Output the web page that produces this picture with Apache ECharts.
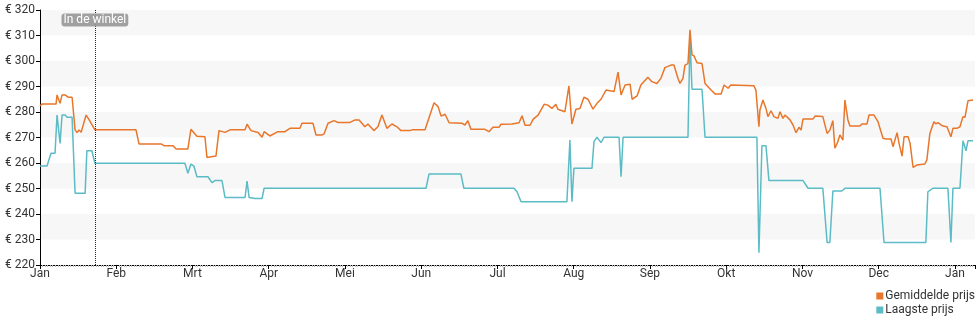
<!DOCTYPE html>
<html>
<head>
<meta charset="utf-8">
<script src="https://cdn.jsdelivr.net/npm/echarts@6/dist/echarts.min.js"></script>
<style>
html,body{margin:0;padding:0;background:#fff;}
#chart{width:980px;height:325px;}
</style>
</head>
<body>
<div id="chart"></div>
<script>
// Month tick labels (evenly spaced, one per twelfth of a year)
const monthLabels = ['Jan','Feb','Mrt','Apr','Mei','Jun','Jul','Aug','Sep','Okt','Nov','Dec'];
const yTicks = [220,230,240,250,260,270,280,290,300,310,320];
const seriesNames = ['Gemiddelde prijs','Laagste prijs'];

// Gemiddelde prijs: day offset from 1 Jan, price in euro
const avgDays = [0,0.8,6.4,6.8,8.0,8.8,10.0,11.2,12.8,14.0,14.8,15.6,16.4,18.4,19.5,21.9,38.3,39.5,48.3,49.5,53.1,54.3,59.0,60.2,62.6,65.8,66.6,70.2,71.4,73.8,75.8,81.8,82.6,84.2,87.0,88.6,89.4,91.7,94.9,97.7,99.7,103.7,104.5,108.9,110.1,112.5,113.3,114.9,117.3,118.9,123.7,125.7,127.3,128.4,129.6,130.8,133.2,134.8,136.4,138.4,140.4,142.4,144.0,147.6,148.4,153.6,157.2,158.8,160.0,161.6,163.2,168.3,169.5,170.7,171.9,177.5,179.1,180.7,183.1,183.9,188.3,191.1,192.3,193.5,195.5,196.7,198.7,201.1,202.6,204.2,205.8,206.6,209.4,211.0,212.2,213.8,215.4,217.0,218.6,220.6,222.2,223.8,225.8,229.0,230.6,231.8,233.4,235.4,236.2,238.2,239.7,242.5,244.1,246.1,247.7,249.3,251.7,252.9,254.5,255.3,256.5,257.3,258.5,259.3,260.1,260.9,262.1,264.1,265.3,266.5,267.7,269.3,271.7,272.9,274.5,275.6,284.8,285.6,286.8,287.2,288.4,289.6,290.4,291.6,292.8,294.4,295.2,296.4,297.2,299.2,300.4,301.6,302.8,303.6,304.4,308.4,309.2,312.3,314.0,315.1,316.3,317.1,318.3,319.1,320.3,321.1,322.3,323.1,327.1,327.9,329.9,330.7,332.7,334.3,336.3,337.5,339.5,340.3,341.9,342.7,343.9,344.7,346.3,347.1,348.3,349.8,353.0,353.8,355.0,356.6,357.4,358.2,360.2,361.8,363.4,364.2,365.8,367.0,368.2,369.0,370.2,372.2];
const avgPrices = [282.4,283.1,283.1,286.7,283.4,286.7,286.7,285.8,285.8,273,271.9,273,272,278.8,277.1,273,273,267.5,267.5,266.8,266.8,265.5,265.5,273.2,270.5,270.3,262.2,262.7,272.7,272,273,273,275.2,272.7,272,270.1,272.3,270.6,272.3,272.3,273.6,273.6,275.6,275.6,271,271,271.4,275.6,276.6,275.9,275.9,276.9,276.9,275.6,274.2,275.3,272.7,274.2,278.8,273.6,275.3,274.2,272.7,272.7,273,273,283.6,282.1,278.4,279.1,275.8,275.6,274.9,276.6,273.2,273.2,272.3,274,274,275.2,275.3,275.8,278.5,274.8,274.8,277.1,278.8,283,282.7,281.4,283,281.1,280.1,290.2,275.3,281.1,281.4,285.8,285,281.1,283.4,285,288.6,288,295.6,286.7,290.6,290.9,285,286.3,290.6,293.6,291.9,291.2,293.2,297.4,298.4,298.4,293.2,291.2,293.2,298.4,299,312.2,302.4,302,299.3,299,291.2,289.9,288.6,287.1,287.1,290.6,289.3,290.6,290.3,288.6,274.2,280.8,284.7,281.4,278.2,280.5,278.2,277.5,280.1,277.5,278.8,276.9,274.9,271.9,274,272.9,277.3,277.3,278.4,278.2,271.6,272.9,276.6,265.8,268.4,271,269,284.7,276.9,274.5,274.5,275.3,275.3,278.8,278.8,276.2,269.7,269.4,269.4,266.4,271.9,267.7,262.7,270.3,270.3,267.7,258.3,259.2,259.6,261.2,271.6,276.2,275.3,275.8,274.5,274.2,270.3,273.6,273.6,274.2,278.2,277.9,284.4,284.7];

// Laagste prijs: day offset from 1 Jan, price in euro
const lowDays = [0,2.8,4.4,6.0,6.8,8.0,8.8,10.0,10.8,12.8,14.0,18.0,18.7,20.7,21.9,57.8,59.0,60.2,61.4,62.6,67.0,68.6,69.8,72.6,73.8,81.8,82.6,83.4,85.8,88.6,89.4,154.0,155.2,167.9,169.1,189.1,190.3,191.9,210.2,211.4,212.2,213.0,220.2,221.0,222.2,223.8,225.0,231.0,231.8,232.6,258.5,259.3,260.1,264.1,265.3,286.0,286.8,288.0,289.6,290.8,304.4,306.4,312.3,314.0,315.1,316.3,319.9,321.1,335.1,336.7,353.4,354.2,356.2,362.2,363.4,364.2,367.0,368.2,369.4,370.2,372.2];
const lowPrices = [258.8,258.8,263.8,263.8,278.8,267.7,278.8,278.8,277.9,277.9,248.1,248.1,264.8,264.8,259.9,259.9,256,259.6,258.8,254.6,254.6,252.3,253.1,253.1,246.5,246.5,252.9,246.5,246.1,246.1,250.1,250.1,255.7,255.7,250.1,250.1,248.7,244.8,244.8,269,244.8,257.9,257.9,268.4,270.1,268,270.1,270.1,254.6,270.1,270.1,309.5,288.9,288.9,270.1,270.1,224.8,266.8,266.8,253.1,253.1,250.1,250.1,228.8,228.8,249,249,250.1,250.1,228.8,228.8,248.7,250.1,250.1,228.8,250.1,250.1,268.7,264.8,268.7,268.7];

const storeDay = 21.9;   // "In de winkel" marker
const storeLabel = 'In de winkel';

const MONTH = 365 / 12;
const zip = (xs, ys) => xs.map((x, i) => [x, ys[i]]);

const chart = echarts.init(document.getElementById('chart'), null, {renderer: 'canvas'});
chart.setOption({
  animation: false,
  textStyle: {fontFamily: 'Roboto'},
  grid: {left: 40, right: 5, top: 10, bottom: 60},
  legend: {
    orient: 'vertical', right: 5, top: 290, padding: 0,
    itemWidth: 7, itemHeight: 7, itemGap: 2,
    icon: 'rect',
    textStyle: {fontSize: 12, color: '#333', padding: [0,0,0,-3]},
    data: seriesNames
  },
  xAxis: {
    type: 'value', min: 0, max: 373, interval: MONTH,
    axisLine: {lineStyle: {color: '#000', width: 1}},
    axisTick: {show: true, length: 4, lineStyle: {color: '#000'}},
    minorTick: {show: true, splitNumber: 30, length: 2, lineStyle: {color: '#bbb'}},
    splitLine: {show: false},
    axisLabel: {
      color: '#333', fontSize: 12, margin: 3, showMaxLabel: false,
      formatter: v => {
        const k = v / MONTH;
        if (Math.abs(k - Math.round(k)) > 0.01) return '';
        return monthLabels[Math.round(k) % 12];
      }
    }
  },
  yAxis: {
    type: 'value', min: yTicks[0], max: yTicks[yTicks.length - 1], interval: 10,
    axisLine: {show: true, lineStyle: {color: '#000'}},
    axisTick: {show: true, length: 4, lineStyle: {color: '#000'}},
    splitLine: {show: false},
    splitArea: {show: true, areaStyle: {color: ['#ffffff', '#f7f7f7']}},
    axisLabel: {color: '#333', fontSize: 12, margin: 5, formatter: '€ {value}'}
  },
  series: [
    {
      name: seriesNames[0], type: 'line', showSymbol: false,
      color: '#e8762b', lineStyle: {width: 1.5, color: '#e8762b'},
      data: zip(avgDays, avgPrices),
      markLine: {
        silent: true, symbol: 'none',
        lineStyle: {type: 'dotted', color: '#222', width: 1},
        label: {show: false},
        data: [{xAxis: storeDay}]
      },
      markPoint: {
        silent: true, symbol: 'rect', symbolSize: 0,
        label: {
          show: true, position: 'inside', formatter: storeLabel,
          color: '#fff', fontSize: 12, backgroundColor: 'rgba(150,150,150,0.9)',
          borderRadius: 3, padding: [1, 2, 0, 2]
        },
        data: [{coord: [storeDay, 316.1]}]
      },
      z: 3
    },
    {
      name: seriesNames[1], type: 'line', showSymbol: false,
      color: '#5bbcc6', lineStyle: {width: 1.5, color: '#5bbcc6'},
      data: zip(lowDays, lowPrices),
      z: 2
    }
  ]
});
</script>
</body>
</html>
